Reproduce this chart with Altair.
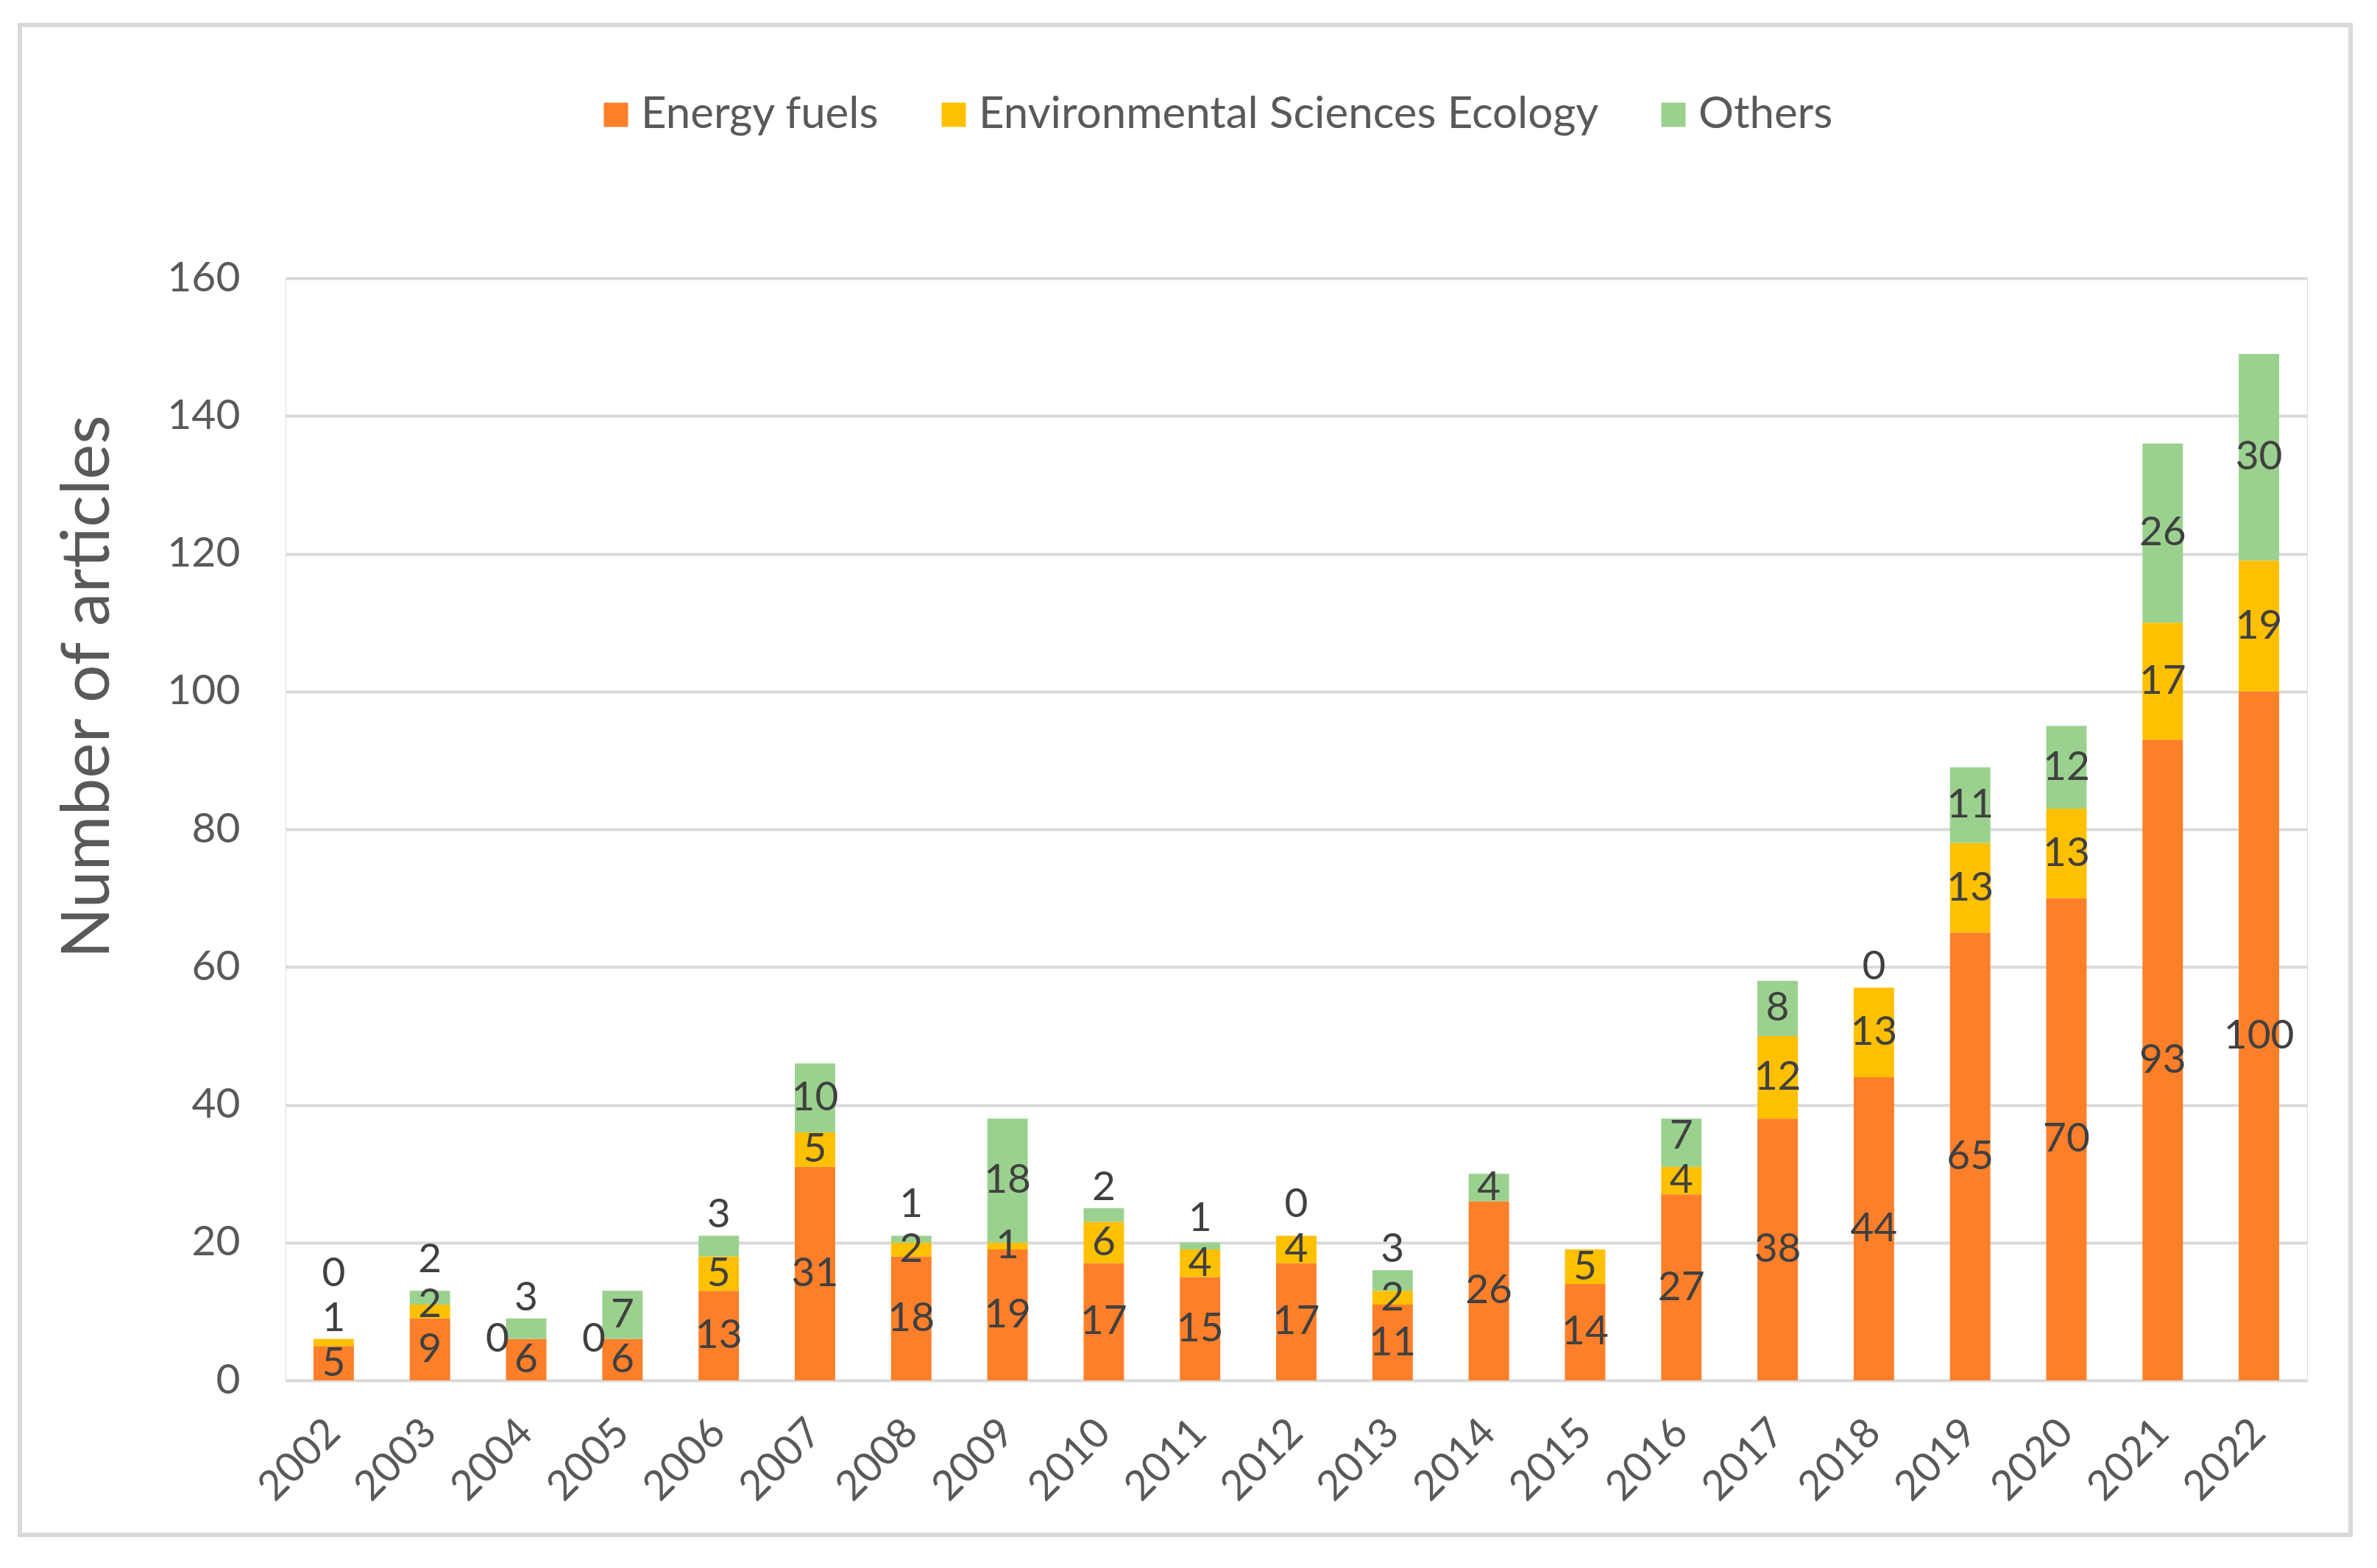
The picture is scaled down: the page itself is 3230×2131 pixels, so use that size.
import altair as alt
import pandas as pd

years = [str(y) for y in range(2002, 2023)]
energy_fuels = [5, 9, 6, 6, 13, 31, 18, 19, 17, 15, 17, 11, 26, 14, 27, 38, 44, 65, 70, 93, 100]
env_sci_ecology = [1, 2, 0, 0, 5, 5, 2, 1, 6, 4, 4, 2, None, 5, 4, 12, 13, 13, 13, 17, 19]
others = [0, 2, 3, 7, 3, 10, 1, 18, 2, 1, 0, 3, 4, None, 7, 8, 0, 11, 12, 26, 30]

series_names = ["Energy fuels", "Environmental Sciences Ecology", "Others"]
series_values = [energy_fuels, env_sci_ecology, others]
colors = ["#FE7F2A", "#FFC000", "#9BD18F"]
y_ticks = [0, 20, 40, 60, 80, 100, 120, 140, 160]

# Build table; compute label positions (segment centres, nudged apart when crowded)
GAP, SMALL, LIFT = 6.5, 3, 3.0
rows = []
for i, yr in enumerate(years):
    base = 0.0
    prev = -1e9
    for k, (name, vals) in enumerate(zip(series_names, series_values)):
        v = vals[i]
        if v is None:
            continue
        start, end = base, base + v
        last = k == len(series_names) - 1
        if v == 0 and not last:
            ly, side = end, True
        else:
            ly = (start + end) / 2
            if last and v <= SMALL:
                ly = max(ly, end + LIFT)
            ly = max(ly, prev + GAP)
            prev = ly
            side = False
        rows.append({"year": yr, "series": name, "order": k, "value": v,
                     "label_y": ly, "side": side})
        base = end
df = pd.DataFrame(rows)

FONT = "Lato"
x_enc = alt.X("year:N", title=None, sort=years,
              scale=alt.Scale(paddingInner=0.58, paddingOuter=0.29),
              axis=alt.Axis(labelAngle=-45, labelAlign="right", labelBaseline="middle",
                            labelPadding=62, ticks=False, domain=False, labelFont=FONT,
                            labelFontSize=56, labelColor="#595959"))
y_scale = alt.Scale(domain=[0, 160], nice=False)

bars = alt.Chart(df).mark_bar().encode(
    x=x_enc,
    y=alt.Y("sum(value):Q", stack="zero", scale=y_scale,
            axis=alt.Axis(values=y_ticks, title="Number of articles", ticks=False, domain=False,
                          grid=True, gridColor="#D9D9D9", gridWidth=4,
                          labelFont=FONT, labelFontSize=57, labelColor="#595959",
                          labelPadding=62, titleFont=FONT, titleFontSize=91,
                          titleFontWeight="normal", titleColor="#595959",
                          titleX=-268, titleY=555, titleAngle=-90,
                          titleAlign="center", titleBaseline="middle")),
    color=alt.Color("series:N", scale=alt.Scale(domain=series_names, range=colors),
                    legend=alt.Legend(orient="none", legendX=419, legendY=-252,
                                      direction="horizontal", title=None,
                                      symbolType="square", symbolSize=1089,
                                      symbolStrokeWidth=0, labelFont=FONT,
                                      labelFontSize=60, labelColor="#595959",
                                      labelLimit=0, columnPadding=71, labelOffset=4)),
    order=alt.Order("order:Q", sort="ascending"),
)

labels = alt.Chart(df).transform_filter("!datum.side").mark_text(
    font=FONT, fontSize=55, color="#404040", align="center", baseline="middle"
).encode(
    x=alt.X("year:N", sort=years),
    y=alt.Y("label_y:Q", scale=y_scale),
    text=alt.Text("value:Q"),
)

side_labels = alt.Chart(df).transform_filter("datum.side").mark_text(
    font=FONT, fontSize=55, color="#404040", align="center", baseline="middle", dx=-39
).encode(
    x=alt.X("year:N", sort=years),
    y=alt.Y("label_y:Q", scale=y_scale),
    text=alt.Text("value:Q"),
)

border = alt.Chart(pd.DataFrame({"a": [0]})).mark_rect(
    filled=False, stroke="#D9D9D9", strokeWidth=6
).encode(
    x=alt.value(-361), x2=alt.value(2806), y=alt.value(-344), y2=alt.value(1708)
)

chart = alt.layer(border, bars, labels, side_labels).properties(
    width=2747, height=1498,
    padding={"left": 380, "top": 370, "right": 80, "bottom": 240},
    autosize=alt.AutoSizeParams(type="none"),
).configure_view(stroke=None).configure(background="white")

chart.save("out.html", embed_options={"renderer": "svg", "actions": False})
